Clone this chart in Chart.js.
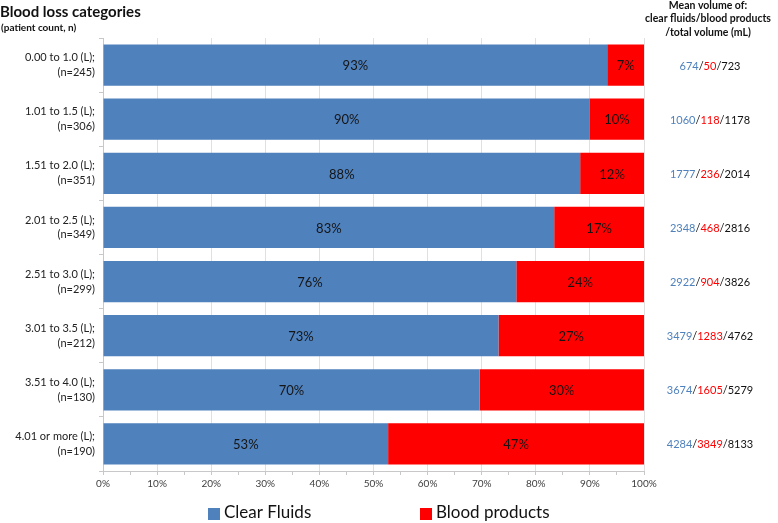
<!DOCTYPE html>
<html>
<head>
<meta charset="utf-8">
<script src="https://cdn.jsdelivr.net/npm/chart.js@4/dist/chart.umd.min.js"></script>
<style>
  body { margin: 0; background: #fff; }
  #wrap { position: relative; width: 778px; height: 523px; }
</style>
</head>
<body>
<div id="wrap"><canvas id="myChart"></canvas></div>
<script>
// blood loss categories, two-line labels
const categories = [
  ['0.00 to 1.0 (L);', '(n=245)'],
  ['1.01 to 1.5 (L);', '(n=306)'],
  ['1.51 to 2.0 (L);', '(n=351)'],
  ['2.01 to 2.5 (L);', '(n=349)'],
  ['2.51 to 3.0 (L);', '(n=299)'],
  ['3.01 to 3.5 (L);', '(n=212)'],
  ['3.51 to 4.0 (L);', '(n=130)'],
  ['4.01 or more (L);', '(n=190)']
];
// share of total volume (%)
const clearPct = [93.2, 90.0, 88.2, 83.4, 76.4, 73.1, 69.6, 52.7];
const bloodPct = [6.8, 10.0, 11.8, 16.6, 23.6, 26.9, 30.4, 47.3];
// mean volumes (mL)
const clearVol = [674, 1060, 1777, 2348, 2922, 3479, 3674, 4284];
const bloodVol = [50, 118, 236, 468, 904, 1283, 1605, 3849];
const totalVol = [723, 1178, 2014, 2816, 3826, 4762, 5279, 8133];
const xTicks = [0, 10, 20, 30, 40, 50, 60, 70, 80, 90, 100];

const BLUE = '#4F81BD', RED = '#FF0000';
const FONT = 'Lato, "Open Sans", sans-serif';

const extras = {
  id: 'extras',
  afterDatasetsDraw(chart) {
    const ctx = chart.ctx;
    ctx.save();
    // percent labels inside the bars
    ctx.font = '13px ' + FONT;
    ctx.fillStyle = '#151515';
    ctx.textAlign = 'center';
    ctx.textBaseline = 'middle';
    chart.data.datasets.forEach((ds, i) => {
      chart.getDatasetMeta(i).data.forEach((bar, j) => {
        ctx.fillText(Math.round(ds.data[j]) + '%', (bar.x + bar.base) / 2, bar.y + 1);
      });
    });

    // mean volume text on the right
    const y = chart.scales.y;
    ctx.font = '11px ' + FONT;
    ctx.textAlign = 'left';
    categories.forEach((c, j) => {
      const parts = [
        [String(clearVol[j]), BLUE], ['/', '#111'],
        [String(bloodVol[j]), RED], ['/', '#111'],
        [String(totalVol[j]), '#111']
      ];
      let w = 0;
      parts.forEach(p => w += ctx.measureText(p[0]).width);
      let x = 710 - w / 2;
      parts.forEach(p => {
        ctx.fillStyle = p[1];
        ctx.fillText(p[0], x, y.getPixelForValue(j) + 1);
        x += ctx.measureText(p[0]).width;
      });
    });

    // headers
    ctx.fillStyle = '#111';
    ctx.font = 'bold 15px ' + FONT;
    ctx.textAlign = 'left';
    ctx.fillText('Blood loss categories', 0, 12);
    ctx.font = 'bold 10px ' + FONT;
    ctx.fillText('(patient count, n)', 1, 28);
    ctx.textAlign = 'center';
    ctx.font = 'bold 10.5px ' + FONT;
    ctx.fillText('Mean volume of:', 708, 6);
    ctx.fillText('clear fluids/blood products', 708, 19);
    ctx.fillText('/total volume (mL)', 708, 33);

    // legend
    const items = [[208, 0], [420, 1]];
    ctx.font = '17px ' + FONT;
    ctx.textAlign = 'left';
    items.forEach(([lx, k]) => {
      const ds = chart.data.datasets[k];
      ctx.fillStyle = ds.backgroundColor;
      ctx.fillRect(lx, 508, 12, 12);
      ctx.fillStyle = '#111';
      ctx.fillText(ds.label, lx + 16, 513);
    });
    ctx.restore();
  }
};

new Chart(document.getElementById('myChart'), {
  type: 'bar',
  data: {
    labels: categories,
    datasets: [
      { label: 'Clear Fluids', data: clearPct, backgroundColor: BLUE },
      { label: 'Blood products', data: bloodPct, backgroundColor: RED }
    ]
  },
  options: {
    indexAxis: 'y',
    responsive: true,
    maintainAspectRatio: false,
    animation: false,
    categoryPercentage: 1,
    barPercentage: 0.76,
    layout: { padding: { top: 38, right: 134, bottom: 33, left: 0 } },
    plugins: { legend: { display: false }, tooltip: { enabled: false } },
    scales: {
      x: {
        stacked: true,
        min: 0, max: 100,
        afterBuildTicks: s => { s.ticks = [];
          for (let v = 0; v <= 100; v += 5) s.ticks.push({ value: v }); },
        afterFit: s => { s.height = 19; },
        ticks: {
          autoSkip: false, maxRotation: 0, padding: 3,
          color: '#404040', font: { size: 10, family: FONT },
          callback: v => xTicks.includes(v) ? v + '%' : ''
        },
        grid: {
          color: c => (c.tick && c.tick.value % 10 === 0) ? '#e0e0e0' : 'rgba(0,0,0,0)',
          tickColor: '#c8c8c8', tickLength: 4
        },
        border: { color: '#c8c8c8' }
      },
      y: {
        stacked: true,
        afterFit: s => { s.width = 103; },
        ticks: { color: '#222', padding: 4, font: { size: 11, family: FONT, lineHeight: 1.35 } },
        grid: { color: 'rgba(0,0,0,0)', tickColor: '#c8c8c8', tickLength: 4, offset: true },
        border: { color: '#c8c8c8' }
      }
    }
  },
  plugins: [extras]
});
</script>
</body>
</html>
